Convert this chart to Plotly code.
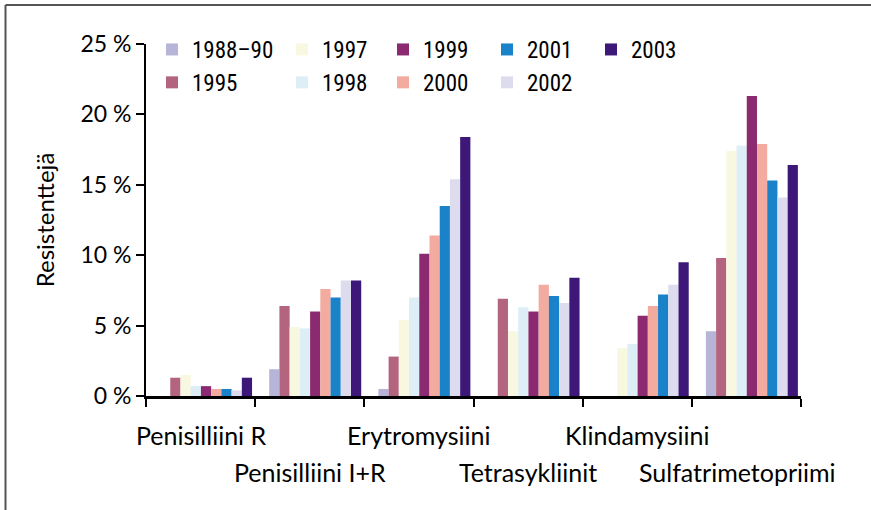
import plotly.graph_objects as go

categories = ["Penisilliini R", "Penisilliini I+R", "Erytromysiini",
              "Tetrasykliinit", "Klindamysiini", "Sulfatrimetopriimi"]
label_row = [0, 1, 0, 1, 0, 1]

years = ["1988–90", "1995", "1997", "1998", "1999", "2000", "2001", "2002", "2003"]
v_1988_90 = [0.0, 1.9, 0.5, 0.0, 0.0, 4.6]
v_1995 = [1.3, 6.4, 2.8, 6.9, 0.0, 9.8]
v_1997 = [1.5, 4.9, 5.4, 4.6, 3.4, 17.4]
v_1998 = [0.7, 4.8, 7.0, 6.3, 3.7, 17.8]
v_1999 = [0.7, 6.0, 10.1, 6.0, 5.7, 21.3]
v_2000 = [0.5, 7.6, 11.4, 7.9, 6.4, 17.9]
v_2001 = [0.5, 7.0, 13.5, 7.1, 7.2, 15.3]
v_2002 = [0.4, 8.2, 15.4, 6.6, 7.9, 14.1]
v_2003 = [1.3, 8.2, 18.4, 8.4, 9.5, 16.4]
series = [v_1988_90, v_1995, v_1997, v_1998, v_1999, v_2000, v_2001, v_2002, v_2003]

colors = ["#b6b4d7", "#b3657f", "#f8f8e0", "#ddeef7", "#8b2a70",
          "#f2ab9e", "#1a82c8", "#dddcee", "#3d1878"]
legend_of = ["legend", "legend", "legend2", "legend2", "legend3",
             "legend3", "legend4", "legend4", "legend5"]

y_ticks = [0, 5, 10, 15, 20, 25]

FONT = "Lato, 'Open Sans', sans-serif"
LEGFONT = ("'Liberation Sans Narrow', 'Roboto Condensed', 'Noto Sans Condensed', "
           "'Open Sans Condensed', 'Arial Narrow', 'DejaVu Sans Condensed', sans-serif")

W, H = 871, 510
L, R, T, B = 146, 70, 44, 114
pw, ph = W - L - R, H - T - B

def px_x(px):
    return (px - L) / pw

def px_y(py):
    return (H - B - py) / ph

shift = 0.05
xs = [i + shift for i in range(len(categories))]

fig = go.Figure()
for name, vals, col, lg in zip(years, series, colors, legend_of):
    fig.add_trace(go.Bar(x=xs, y=vals, name=name, marker=dict(color=col, line=dict(width=0)),
                         legend=lg))

leg_left = [152, 282, 383, 487, 591]
legend_common = dict(orientation="v", font=dict(family=LEGFONT, size=23, color="#000"),
                     bgcolor="rgba(0,0,0,0)", yanchor="top", xanchor="left",
                     tracegroupgap=0, itemclick=False)
leg_y = px_y(28)
fig.update_layout(
    legend=dict(x=px_x(leg_left[0]), y=leg_y, **legend_common),
    legend2=dict(x=px_x(leg_left[1]), y=leg_y, **legend_common),
    legend3=dict(x=px_x(leg_left[2]), y=leg_y, **legend_common),
    legend4=dict(x=px_x(leg_left[3]), y=leg_y, **legend_common),
    legend5=dict(x=px_x(leg_left[4]), y=leg_y, **legend_common),
)

annotations = []
for i, (cat, row) in enumerate(zip(categories, label_row)):
    annotations.append(dict(x=i, y=px_y(435 if row == 0 else 472), xref="x", yref="paper",
                            text=cat, showarrow=False, xanchor="center", yanchor="middle",
                            xshift=-9 if i == len(categories) - 1 else 0,
                            font=dict(family=FONT, size=25, color="#000")))

# outer frame: only the left and top edges are visible
shapes = [
    dict(type="line", xref="paper", yref="paper", x0=px_x(5.5), x1=px_x(W),
         y0=px_y(5), y1=px_y(5), line=dict(color="#555", width=2)),
    dict(type="line", xref="paper", yref="paper", x0=px_x(5.5), x1=px_x(5.5),
         y0=px_y(5), y1=px_y(H), line=dict(color="#555", width=2)),
]

fig.update_layout(
    width=W, height=H,
    margin=dict(l=L, r=R, t=T, b=B, pad=0, autoexpand=False),
    paper_bgcolor="white", plot_bgcolor="white",
    barmode="group", bargap=0.157, bargroupgap=0,
    showlegend=True,
    annotations=annotations, shapes=shapes,
    xaxis=dict(range=[-0.5, len(categories) - 0.5], tickmode="array",
               tickvals=[i - 0.5 for i in range(len(categories) + 1)],
               ticktext=[""] * (len(categories) + 1),
               ticks="outside", ticklen=8, tickwidth=2, tickcolor="#000",
               showline=True, linecolor="#000", linewidth=2.5, showgrid=False,
               zeroline=False, fixedrange=True, automargin=False),
    yaxis=dict(range=[0, 25], tickmode="array", tickvals=y_ticks,
               ticktext=[f"{v}\u2009\u2009%" for v in y_ticks],
               ticks="outside", ticklen=8, tickwidth=2, tickcolor="#000",
               showline=True, linecolor="#000", linewidth=2, showgrid=False,
               zeroline=False, fixedrange=True, automargin=False,
               tickfont=dict(family=FONT, size=23, color="#000"),
               title=dict(text="Resistenttejä", standoff=19,
                          font=dict(family=FONT, size=24, color="#000"))),
)

fig.write_html("out.html", config={"displayModeBar": False},
               post_script="document.documentElement.style.overflow='hidden';document.body.style.margin='0';document.body.style.overflow='hidden';")
